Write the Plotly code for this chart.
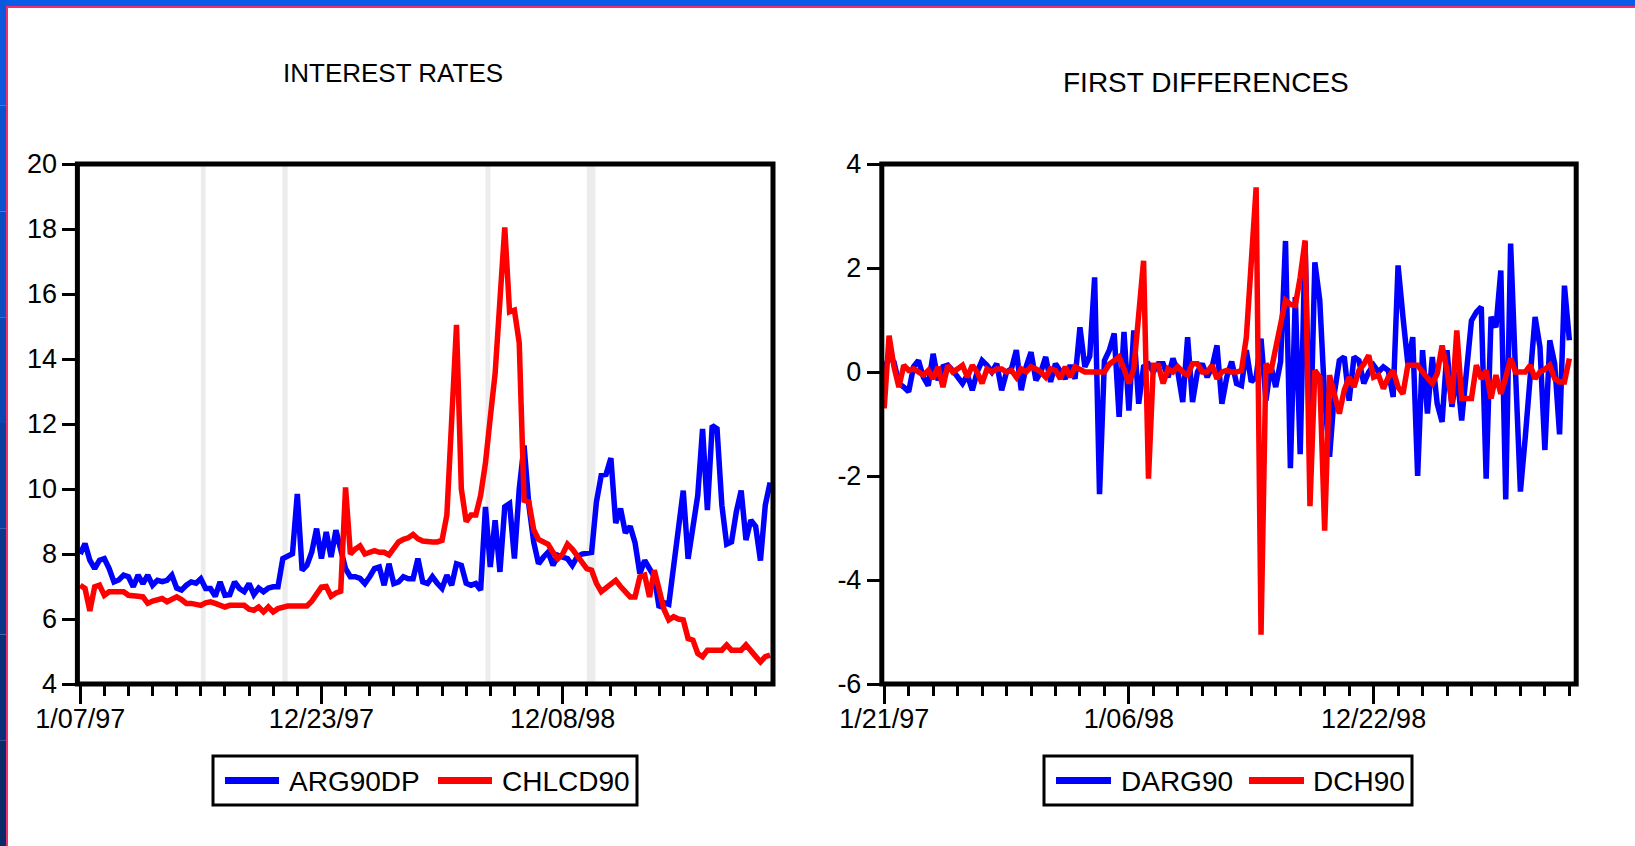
import plotly.graph_objects as go

W, H = 1635, 846

# ---------------- data ----------------
arg90dp = [8.0, 8.32, 7.81, 7.55, 7.81, 7.86, 7.55, 7.14, 7.2, 7.35,
           7.3, 6.99, 7.35, 7.09, 7.35, 7.04, 7.19, 7.15, 7.19, 7.35,
           6.95, 6.89, 7.04, 7.14, 7.1, 7.24, 6.94, 6.94, 6.7, 7.14,
           6.73, 6.75, 7.14, 6.94, 6.84, 7.09, 6.75, 6.95, 6.84, 6.95,
           6.99, 6.99, 7.86, 7.96, 8.01, 9.85, 7.5, 7.65, 8.06, 8.78,
           7.86, 8.68, 7.91, 8.73, 8.06, 7.55, 7.3, 7.3, 7.25, 7.09,
           7.3, 7.55, 7.6, 7.04, 7.7, 7.09, 7.14, 7.3, 7.24, 7.24,
           7.86, 7.14, 7.09, 7.3, 7.1, 6.94, 7.35, 7.04, 7.7, 7.65,
           7.1, 7.04, 7.09, 6.89, 9.45, 7.6, 9.04, 7.45, 9.45, 9.55,
           7.86, 10.0, 11.34, 9.5, 8.37, 7.7, 7.9, 8.06, 7.65, 7.96,
           7.9, 7.86, 7.65, 7.91, 8.0, 8.01, 8.05, 9.6, 10.42, 10.45,
           10.95, 8.95, 9.4, 8.65, 8.85, 8.35, 7.4, 7.8, 7.55, 7.3,
           6.35, 6.5, 6.45, 7.6, 8.8, 9.95, 7.85, 8.8, 9.8, 11.85,
           9.35, 11.95, 11.85, 9.5, 8.3, 8.37, 9.3, 9.95, 8.43, 9.04,
           8.85, 7.8, 9.5, 10.2]

chlcd90 = [7.04, 6.94, 6.25, 6.99, 7.04, 6.73, 6.84, 6.84, 6.84, 6.84,
           6.73, 6.73, 6.7, 6.68, 6.48, 6.55, 6.58, 6.63, 6.53, 6.63,
           6.68, 6.6, 6.48, 6.48, 6.45, 6.42, 6.5, 6.53, 6.48, 6.42,
           6.37, 6.42, 6.42, 6.42, 6.42, 6.3, 6.27, 6.37, 6.22, 6.37,
           6.22, 6.32, 6.38, 6.4, 6.4, 6.4, 6.4, 6.4, 6.55, 6.75,
           6.98, 7.0, 6.7, 6.8, 6.85, 10.05, 8.0, 8.15, 8.25, 8.0,
           8.05, 8.1, 8.05, 8.05, 7.97, 8.2, 8.37, 8.45, 8.5, 8.6,
           8.47, 8.4, 8.37, 8.37, 8.37, 8.42, 9.2, 12.1, 15.05, 10.0,
           9.0, 9.2, 9.2, 9.8, 10.8, 12.2, 13.55, 15.8, 18.05, 15.45,
           15.5, 14.5, 9.65, 9.6, 8.75, 8.45, 8.35, 8.3, 8.05, 7.85,
           8.0, 8.3, 8.15, 7.95, 7.7, 7.55, 7.5, 7.1, 6.84, 6.95,
           7.05, 7.19, 7.0, 6.85, 6.68, 6.68, 7.3, 7.35, 6.68, 7.5,
           6.9, 6.3, 5.97, 6.07, 6.0, 5.97, 5.4, 5.35, 4.94, 4.84,
           5.04, 5.04, 5.04, 5.04, 5.2, 5.04, 5.04, 5.04, 5.2, 5.05,
           4.85, 4.68, 4.84, 4.89]

darg90 = [0.05, 0.29, 0.19, -0.22, -0.29, -0.38, 0.1, 0.22, -0.1, -0.26,
          0.35, -0.16, 0.1, 0.13, 0.03, -0.1, -0.22, -0.06, -0.35, 0.0,
          0.22, 0.13, 0.0, 0.16, -0.35, 0.0, 0.06, 0.42, -0.35, 0.1,
          0.38, -0.16, 0.0, 0.29, -0.19, 0.16, 0.0, -0.13, 0.13, -0.13,
          0.86, 0.1, 0.3, 1.82, -2.35, 0.22, 0.42, 0.74, -0.86, 0.77,
          -0.74, 0.80, -0.61, 0.1, 0.15, 0.0, 0.16, 0.16, -0.1, 0.26,
          0.0, -0.58, 0.67, -0.58, 0.0, 0.16, -0.1, 0.1, 0.51, -0.61,
          -0.1, 0.2, -0.22, -0.26, 0.42, -0.19, -0.1, 0.64, -0.55, 0.13,
          -0.29, 0.2, 2.52, -1.85, 1.44, -1.58, 2.5, -1.63, 2.11, 1.38,
          -0.5, -1.63, -0.4, 0.22, 0.29, -0.55, 0.29, 0.22, -0.22, 0.0,
          0.13, 0.0, 0.1, 0.03, -0.48, 2.05, 1.06, 0.16, 0.67, -2.0,
          0.42, -0.8, 0.29, -0.61, -0.96, 0.42, -0.67, 0.0, -0.93, 0.16,
          0.99, 1.15, 1.25, -2.05, 1.06, 0.86, 1.95, -2.45, 2.47, 0.0,
          -2.3, -1.25, 0.0, 1.06, 0.48, -1.5, 0.61, 0.16, -1.2, 1.66,
          0.61]

dch90 = [-0.70, 0.70, 0.1, -0.29, 0.13, 0.03, 0.06, 0.0, -0.06, 0.03,
         -0.13, 0.10, -0.29, 0.13, 0.0, 0.06, 0.13, -0.10, 0.13, 0.0,
         -0.22, 0.06, 0.0, 0.06, 0.06, 0.0, 0.03, -0.1, 0.06, 0.0,
         0.1, 0.06, 0.0, -0.1, 0.06, 0.03, -0.13, 0.1, -0.1, 0.1,
         0.06, 0.0, 0.0, 0.0, 0.0, 0.0, 0.15, 0.22, 0.29, 0.06,
         -0.22, 0.06, 1.1, 2.14, -2.05, 0.13, 0.13, -0.22, 0.06, 0.0,
         0.1, 0.0, -0.06, 0.16, 0.16, 0.0, 0.0, 0.13, -0.13, 0.0,
         0.03, 0.0, 0.0, 0.03, 0.67, 2.2, 3.55, -5.05, 0.16, 0.0,
         0.48, 0.9, 1.38, 1.3, 1.28, 1.82, 2.53, -2.58, 0.03, -0.1,
         -3.05, -0.06, -0.4, -0.8, -0.35, -0.1, -0.29, 0.03, 0.15, 0.32,
         -0.1, -0.06, -0.32, -0.1, 0.03, -0.29, -0.42, 0.13, 0.13, 0.13,
         0.0, -0.1, -0.22, -0.03, 0.51, 0.03, -0.61, 0.8, -0.51, -0.51,
         -0.51, 0.13, -0.13, 0.03, -0.51, -0.06, -0.42, -0.1, 0.26, 0.0,
         0.0, 0.0, 0.13, -0.13, 0.0, 0.05, 0.13, -0.13, -0.19, -0.19,
         0.26]

# weekly observations (index = week number from first observation)
left_obs = list(range(len(arg90dp)))
right_obs = list(range(len(darg90)))

major_ticks = [0, 25, 50, 75, 100, 125]
minor_ticks = list(range(0, 145, 5))
left_tick_labels = ["1/07/97", "", "12/23/97", "", "12/08/98", ""]
right_tick_labels = ["1/21/97", "", "1/06/98", "", "12/22/98", ""]
left_y_ticks = [4, 6, 8, 10, 12, 14, 16, 18, 20]
left_y_labels = ["4", "6", "8", "10", "12", "14", "16", "18", "20"]
right_y_ticks = [-6, -4, -2, 0, 2, 4]
right_y_labels = ["-6", "-4", "-2", "0", "2", "4"]

# shaded crisis weeks (start, end) in observation units
band_start = [25.0, 41.9, 84.0, 105.0]
band_end = [26.0, 43.0, 85.0, 106.8]

BLUE = "#0000FF"
RED = "#FF0000"
FONT = "Liberation Sans, Arial, sans-serif"
LW = 5.5


def px_x(p):
    return p / W


def px_y(p):
    return 1 - p / H


fig = go.Figure()
fig.add_trace(go.Scatter(x=left_obs, y=arg90dp, mode="lines", name="ARG90DP",
                         line=dict(color=BLUE, width=LW), xaxis="x", yaxis="y"))
fig.add_trace(go.Scatter(x=left_obs, y=chlcd90, mode="lines", name="CHLCD90",
                         line=dict(color=RED, width=LW), xaxis="x", yaxis="y"))
fig.add_trace(go.Scatter(x=right_obs, y=darg90, mode="lines", name="DARG90",
                         line=dict(color=BLUE, width=LW), xaxis="x2", yaxis="y2"))
fig.add_trace(go.Scatter(x=right_obs, y=dch90, mode="lines", name="DCH90",
                         line=dict(color=RED, width=LW), xaxis="x2", yaxis="y2"))

tickfont = dict(family=FONT, size=27, color="black")


def xaxis_cfg(domain, rng, labels):
    return dict(domain=domain, range=rng, tickmode="array", tickvals=major_ticks,
                ticktext=labels, ticks="outside", ticklen=19, tickwidth=3,
                tickcolor="black", showgrid=False, zeroline=False, showline=False,
                tickfont=tickfont, fixedrange=True, ticklabelstandoff=-8,
                minor=dict(tickmode="array", tickvals=minor_ticks, ticks="outside",
                           ticklen=11, tickwidth=3, tickcolor="black", showgrid=False))


def yaxis_cfg(domain, rng, vals, labels, anchor):
    return dict(domain=domain, range=rng, tickmode="array", tickvals=vals,
                ticktext=labels, ticks="outside", ticklen=14, tickwidth=3,
                tickcolor="black", showgrid=False, zeroline=False, showline=False,
                tickfont=tickfont, anchor=anchor, fixedrange=True)


ydom = [px_y(684), px_y(164)]
fig.update_layout(
    width=W, height=H, margin=dict(l=0, r=0, t=0, b=0, autoexpand=False),
    paper_bgcolor="white", plot_bgcolor="white", showlegend=False,
    xaxis=xaxis_cfg([px_x(77.4), px_x(773)], [-0.58, 143.6], left_tick_labels) | dict(anchor="y"),
    yaxis=yaxis_cfg(ydom, [4, 20], left_y_ticks, left_y_labels, "x"),
    xaxis2=xaxis_cfg([px_x(881.8), px_x(1576.2)], [-0.49, 141.4], right_tick_labels) | dict(anchor="y2"),
    yaxis2=yaxis_cfg(ydom, [-6, 4], right_y_ticks, right_y_labels, "x2"),
)

shapes = []
# shaded bands on the left panel
for s, e in zip(band_start, band_end):
    shapes.append(dict(type="rect", xref="x", yref="y domain", x0=s, x1=e, y0=0, y1=1,
                       fillcolor="#ececec", line=dict(width=0), layer="below"))
# frames
for xr, yr in (("x domain", "y domain"), ("x2 domain", "y2 domain")):
    shapes.append(dict(type="rect", xref=xr, yref=yr, x0=0, x1=1, y0=0, y1=1,
                       line=dict(color="black", width=5), fillcolor="rgba(0,0,0,0)",
                       layer="above"))

# custom legends
legends = [
    dict(box=(213, 756, 637, 805), items=[(225, 279, 287, "ARG90DP", BLUE),
                                           (438, 492, 500, "CHLCD90", RED)]),
    dict(box=(1044, 756, 1412, 805), items=[(1056, 1111, 1119, "DARG90", BLUE),
                                             (1249, 1304, 1311, "DCH90", RED)]),
]
annotations = []
for lg in legends:
    x0, y0, x1, y1 = lg["box"]
    shapes.append(dict(type="rect", xref="paper", yref="paper", x0=px_x(x0), x1=px_x(x1),
                       y0=px_y(y1), y1=px_y(y0), line=dict(color="black", width=3),
                       fillcolor="white"))
    ym = (y0 + y1) / 2
    for lx0, lx1, tx, name, col in lg["items"]:
        shapes.append(dict(type="line", xref="paper", yref="paper", x0=px_x(lx0), x1=px_x(lx1),
                           y0=px_y(ym), y1=px_y(ym), line=dict(color=col, width=7)))
        annotations.append(dict(text=name, xref="paper", yref="paper", x=px_x(tx), y=px_y(ym + 1),
                                xanchor="left", yanchor="middle", showarrow=False,
                                font=dict(family=FONT, size=28, color="black")))

# titles
annotations.append(dict(text="INTEREST RATES", xref="paper", yref="paper", x=px_x(392.5),
                        y=px_y(73), xanchor="center", yanchor="middle", showarrow=False,
                        font=dict(family=FONT, size=26, color="black")))
annotations.append(dict(text="FIRST DIFFERENCES", xref="paper", yref="paper", x=px_x(1206),
                        y=px_y(82), xanchor="center", yanchor="middle", showarrow=False,
                        font=dict(family=FONT, size=28, color="black")))

# slide border decoration
shapes.append(dict(type="rect", xref="paper", yref="paper", x0=0, x1=1, y0=px_y(6), y1=1,
                   fillcolor="#0a5ce8", line=dict(width=0)))
shapes.append(dict(type="line", xref="paper", yref="paper", x0=0, x1=1, y0=px_y(7), y1=px_y(7),
                   line=dict(color="#f0306a", width=2)))
left_shades = ["#0b58de", "#0b52cf", "#0b4cc0", "#0b45af", "#0a3e9d", "#0a378b", "#0a3079", "#0a2a6a"]
n = len(left_shades)
for i, c in enumerate(left_shades):
    shapes.append(dict(type="rect", xref="paper", yref="paper", x0=0, x1=px_x(6),
                       y0=1 - (i + 1) / n, y1=1 - i / n, fillcolor=c, line=dict(width=0)))
shapes.append(dict(type="line", xref="paper", yref="paper", x0=px_x(7), x1=px_x(7), y0=0,
                   y1=px_y(6), line=dict(color="#f0306a", width=2)))

fig.update_layout(shapes=shapes, annotations=annotations)

fig.write_html("out.html", include_plotlyjs=True, config={"displayModeBar": False},
               post_script="document.body.style.margin='0';document.body.style.overflow='hidden';")
